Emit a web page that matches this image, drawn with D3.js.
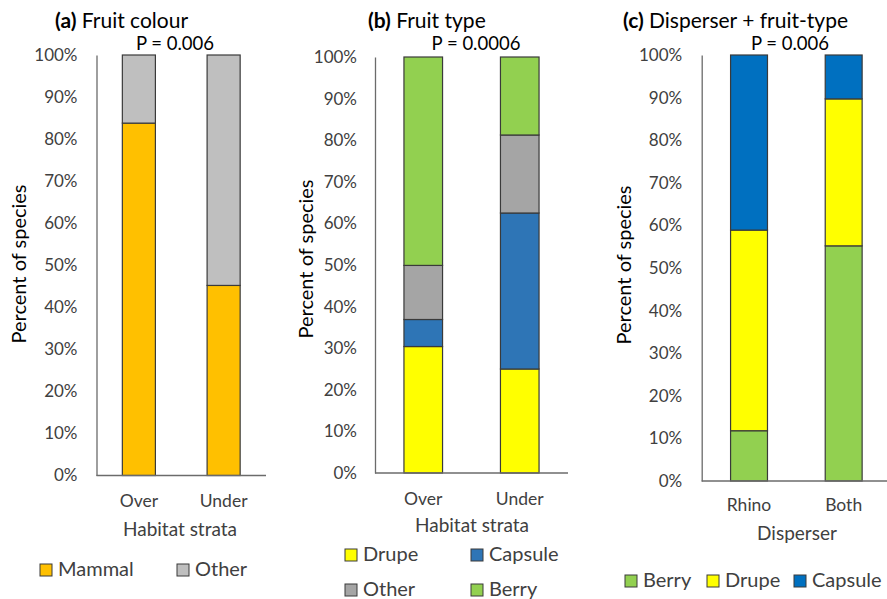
<!DOCTYPE html>
<html><head><meta charset="utf-8">
<script src="https://cdn.jsdelivr.net/npm/d3@7"></script>
<style>
html,body{margin:0;padding:0;background:#fff;}
svg{display:block;font-family:Lato,"Open Sans",sans-serif;}
</style></head>
<body><svg id="c" width="887" height="599"></svg>
<script>
// ---- data ----
const yTicks = [0,10,20,30,40,50,60,70,80,90,100];

const aCategories = ["Over","Under"];
const aSeries = ["Mammal","Other"];
const aMammal = [83.8, 45.2];
const aOther  = [16.2, 54.8];

const bCategories = ["Over","Under"];
const bSeries = ["Drupe","Capsule","Other","Berry"];
const bDrupe   = [30.4, 25.0];
const bCapsule = [6.5, 37.5];
const bOther   = [13.0, 18.75];
const bBerry   = [50.1, 18.75];

const cCategories = ["Rhino","Both"];
const cSeries = ["Berry","Drupe","Capsule"];
const cBerry   = [11.8, 55.2];
const cDrupe   = [47.1, 34.5];
const cCapsule = [41.1, 10.3];

const svg = d3.select("#c");

function panel(cfg){
  const g = svg.append("g");
  const y = d3.scaleLinear().domain([0,100]).range([cfg.y0, cfg.y1]);
  const x = d3.scalePoint().domain(cfg.categories).range([cfg.x0, cfg.x1]).padding(0.5);
  const bw = x.step()*cfg.bwFrac;
  const rows = cfg.categories.map((c,i)=>{
    const r = {cat:c};
    cfg.series.forEach((s,j)=> r[s]=cfg.values[j][i]);
    return r;
  });
  const stacked = d3.stack().keys(cfg.series)(rows);
  stacked.forEach((layer,j)=>{
    g.selectAll(null).data(layer).enter().append("rect")
      .attr("x", d=>x(d.data.cat)-bw/2)
      .attr("width", bw)
      .attr("y", d=>y(d[1]))
      .attr("height", d=>y(d[0])-y(d[1]))
      .attr("fill", cfg.colors[j])
      .attr("stroke","#3a3a3a").attr("stroke-width",1.2);
  });
  const ya = d3.axisLeft(y).tickValues(yTicks).tickSize(0).tickPadding(cfg.tickPad)
    .tickFormat(d=>d+"%");
  const yg = g.append("g").attr("transform",`translate(${cfg.x0},0)`).call(ya);
  yg.select(".domain").attr("stroke","#6b6b6b").attr("stroke-width",1.3);
  yg.selectAll("text").attr("font-size",17).attr("fill","#404040").attr("font-family","Lato");
  g.append("line").attr("x1",cfg.x0).attr("x2",cfg.x1).attr("y1",y(0)).attr("y2",y(0))
    .attr("stroke","#6b6b6b").attr("stroke-width",1.3);
  g.selectAll(null).data(cfg.categories).enter().append("text")
    .attr("x",d=>x(d)).attr("y",cfg.catY).attr("text-anchor","middle")
    .attr("font-size",17.5).attr("fill","#404040").text(d=>d);
  g.append("text").attr("x",cfg.xTitleX).attr("y",cfg.xTitleY).attr("text-anchor","middle")
    .attr("font-size",19).attr("fill","#404040").text(cfg.xTitle);
  g.append("text").attr("transform",`translate(${cfg.yTitleX},${cfg.yTitleY}) rotate(-90)`)
    .attr("text-anchor","middle").attr("font-size",20).attr("fill","#000").text("Percent of species");
  const t = g.append("text").attr("x",cfg.titleX).attr("y",28).attr("font-size",21).attr("fill","#000");
  t.append("tspan").attr("font-weight","bold").text(cfg.letter);
  t.append("tspan").text(" "+cfg.title);
  g.append("text").attr("x",cfg.pX).attr("y",50).attr("text-anchor","middle")
    .attr("font-size",18.5).attr("fill","#000").text(cfg.p);
  cfg.legend.forEach((L)=>{
    const j = cfg.series.indexOf(L.name);
    g.append("rect").attr("x",L.x).attr("y",L.y-12).attr("width",12).attr("height",12)
      .attr("fill",cfg.colors[j]).attr("stroke","#3a3a3a").attr("stroke-width",1);
    g.append("text").attr("x",L.x+18).attr("y",L.y).attr("font-size",20).attr("fill","#404040").text(L.name);
  });
}

panel({
  categories:aCategories, series:aSeries, values:[aMammal,aOther],
  colors:["#FFC000","#BFBFBF"],
  x0:96.5, x1:266, y0:475.5, y1:55, bwFrac:0.39, tickPad:19,
  catY:507, xTitle:"Habitat strata", xTitleX:180, xTitleY:536,
  yTitleX:26, yTitleY:264,
  letter:"(a)", title:"Fruit colour", titleX:55, p:"P = 0.006", pX:175,
  legend:[{name:"Mammal",x:40,y:576},{name:"Other",x:177,y:576}]
});

panel({
  categories:bCategories, series:bSeries, values:[bDrupe,bCapsule,bOther,bBerry],
  colors:["#FFFF00","#2E75B6","#A5A5A5","#92D050"],
  x0:375, x1:568, y0:473, y1:57, bwFrac:0.4, tickPad:18,
  catY:505, xTitle:"Habitat strata", xTitleX:472, xTitleY:532,
  yTitleX:313, yTitleY:259,
  letter:"(b)", title:"Fruit type", titleX:368, p:"P = 0.0006", pX:476,
  legend:[{name:"Drupe",x:345,y:561},{name:"Capsule",x:471,y:561},
          {name:"Other",x:345,y:596},{name:"Berry",x:471,y:596}]
});

panel({
  categories:cCategories, series:cSeries, values:[cBerry,cDrupe,cCapsule],
  colors:["#92D050","#FFFF00","#0070C0"],
  x0:701.7, x1:891, y0:481, y1:55, bwFrac:0.39, tickPad:19.5,
  catY:511, xTitle:"Disperser", xTitleX:797, xTitleY:540,
  yTitleX:631, yTitleY:265,
  letter:"(c)", title:"Disperser + fruit-type", titleX:623, p:"P = 0.006", pX:790,
  legend:[{name:"Berry",x:625,y:587},{name:"Drupe",x:707,y:587},{name:"Capsule",x:794,y:587}]
});
</script>
</body></html>
